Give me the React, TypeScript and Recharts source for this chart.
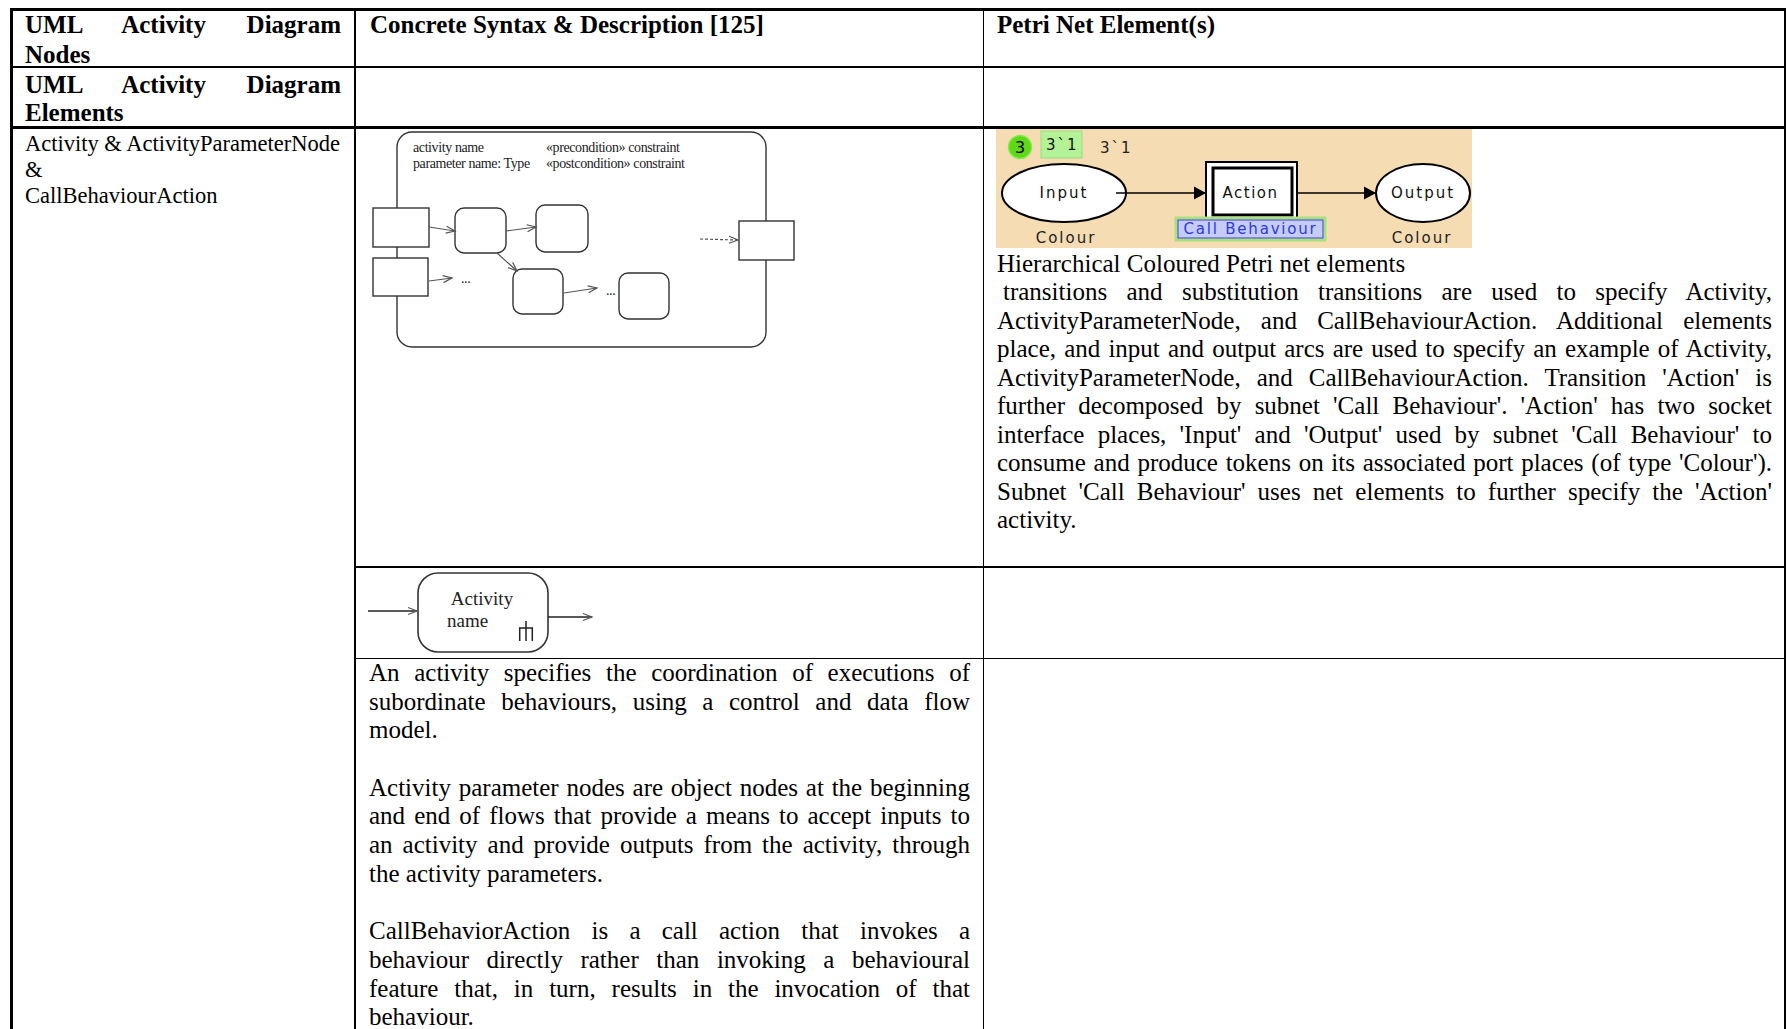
import React from 'react';
import { ScatterChart, Scatter, XAxis, YAxis } from 'recharts';

const SERIF = "'Liberation Serif', 'Times New Roman', serif";
const PIXEL = "'DejaVu Sans', Verdana, sans-serif";

// table text
const headCol1 = ['UML Activity Diagram', 'Nodes'];
const elemCol1 = ['UML Activity Diagram', 'Elements'];
const rowLabel = ['Activity & ActivityParameterNode', '&', 'CallBehaviourAction'];
const headCol2 = 'Concrete Syntax & Description [125]';
const headCol3 = 'Petri Net Element(s)';

const petriCaption = 'Hierarchical Coloured Petri net elements';
const petriText = [
  'transitions and substitution transitions are used to specify Activity,',
  'ActivityParameterNode, and CallBehaviourAction. Additional elements',
  'place, and input and output arcs are used to specify an example of Activity,',
  "ActivityParameterNode, and CallBehaviourAction. Transition 'Action' is",
  "further decomposed by subnet 'Call Behaviour'. 'Action' has two socket",
  "interface places, 'Input' and 'Output'  used by subnet 'Call Behaviour' to",
  "consume and produce tokens on its associated port places (of type 'Colour').",
  "Subnet 'Call Behaviour' uses net elements to further specify the 'Action'",
  'activity.',
];

const descText = [
  'An activity specifies the coordination of executions of',
  'subordinate behaviours, using a control and data flow',
  'model.',
  '',
  'Activity parameter nodes are object nodes at the beginning',
  'and end of flows that provide a means to accept inputs to',
  'an activity and provide outputs from the activity, through',
  'the activity parameters.',
  '',
  'CallBehaviorAction is a call action that invokes a',
  'behaviour directly rather than invoking a behavioural',
  'feature that, in turn, results in the invocation of that',
  'behaviour.',
];
// lines that end a paragraph are not justified
const descLast = [2, 7, 12];

// activity frame notation (coords in px inside the sketch)
const umlNodes = [
  { x: 221.5, y: 114.5, w: 369, h: 215, kind: 'frame' },
  { x: 41, y: 102.5, w: 56, h: 39, kind: 'pin' },
  { x: 40.5, y: 152, w: 55, h: 38, kind: 'pin' },
  { x: 406.5, y: 115.5, w: 55, h: 39, kind: 'pin' },
  { x: 120.5, y: 105.5, w: 51, h: 45, kind: 'act' },
  { x: 202, y: 103.5, w: 52, h: 47, kind: 'act' },
  { x: 178, y: 166.5, w: 50, h: 45, kind: 'act' },
  { x: 284, y: 171, w: 50, h: 46, kind: 'act' },
];
const umlFlows = [
  { x1: 69, y1: 102, x2: 95, y2: 106 },
  { x1: 146, y1: 106, x2: 176, y2: 102 },
  { x1: 137, y1: 128, x2: 157, y2: 146 },
  { x1: 204, y1: 168, x2: 237, y2: 163 },
  { x1: 69, y1: 156, x2: 92, y2: 153 },
  { x1: 340, y1: 114, x2: 378, y2: 115, dashed: true },
];
const umlLabels = [
  { x: 53, y: 27, text: 'activity name' },
  { x: 53, y: 43, text: 'parameter name: Type' },
  { x: 186, y: 27, text: '«precondition» constraint' },
  { x: 186, y: 43, text: '«postcondition» constraint' },
  { x: 101, y: 158, text: '...' },
  { x: 246, y: 170, text: '...' },
];

// activity node notation
const actNodes = [
  { x: 123, y: 52.5, w: 130, h: 79, kind: 'big' },
  { x: 166, y: 71, w: 14, h: 20, kind: 'rake' },
];
const actFlows = [
  { x1: 8, y1: 51, x2: 57, y2: 51 },
  { x1: 188, y1: 57, x2: 232, y2: 57 },
];
const actLabels = [
  { x: 122, y: 45, text: 'Activity', anchor: 'middle' },
  { x: 87, y: 67, text: 'name' },
];

// CPN Tools page
const cpnNodes = [
  { x: 244, y: 63.5, w: 476, h: 119, kind: 'bg' },
  { x: 30, y: 22, w: 23, h: 23, kind: 'token', text: '3' },
  { x: 71.5, y: 19.5, w: 41, h: 27, kind: 'marking', text: '3`1' },
  { x: 74, y: 68, w: 124, h: 58, kind: 'place', text: 'Input' },
  { x: 261.5, y: 65, w: 91, h: 56, kind: 'subst', text: 'Action' },
  { x: 260.5, y: 104, w: 145, h: 18, kind: 'tag', text: 'Call Behaviour' },
  { x: 433, y: 68, w: 94, h: 58, kind: 'place', text: 'Output' },
];
const cpnArcs = [
  { x1: 126, y1: 68, x2: 216, y2: 68 },
  { x1: 307, y1: 68, x2: 386, y2: 68 },
];
const cpnLabels = [
  { x: 110, y: 28, text: '3`1' },
  { x: 76, y: 118, text: 'Colour', anchor: 'middle' },
  { x: 432, y: 118, text: 'Colour', anchor: 'middle' },
];

const flowPoints = (f: any) => [
  { x: f.x1, y: f.y1, head: false },
  { x: f.x2, y: f.y2, head: true, angle: (Math.atan2(f.y2 - f.y1, f.x2 - f.x1) * 180) / Math.PI },
];

function umlShape(p: any) {
  const d = p.payload;
  const x = p.cx - d.w / 2;
  const y = p.cy - d.h / 2;
  if (d.kind === 'rake') {
    return (
      <path
        d={`M${p.cx},${y} V${y + d.h} M${x},${y + 7} H${x + d.w} M${x + 0.7},${y + 7} V${y + d.h} M${x + d.w - 0.7},${y + 7} V${y + d.h}`}
        stroke="#222"
        strokeWidth={1.5}
        fill="none"
      />
    );
  }
  const r = d.kind === 'frame' ? 15 : d.kind === 'act' ? 9 : d.kind === 'big' ? 20 : 0;
  return (
    <rect x={x} y={y} width={d.w} height={d.h} rx={r} fill="#fff" stroke="#333" strokeWidth={d.kind === 'big' ? 1.6 : 1.4} />
  );
}

function openHead(p: any) {
  const d = p.payload;
  if (!d.head) return <g />;
  return (
    <path
      transform={`translate(${p.cx},${p.cy}) rotate(${d.angle})`}
      d="M-9,-3.5 L0,0 L-9,3.5"
      fill="none"
      stroke="#555"
      strokeWidth={1.2}
    />
  );
}

function filledHead(p: any) {
  const d = p.payload;
  if (!d.head) return <g />;
  return <path transform={`translate(${p.cx},${p.cy}) rotate(${d.angle})`} d="M-12,-6.5 L0,0 L-12,6.5 Z" fill="#000" />;
}

function serifLabel(size: number, spacing: number) {
  return (p: any) => (
    <text
      x={p.cx}
      y={p.cy}
      fontFamily={SERIF}
      fontSize={size}
      letterSpacing={spacing}
      fill="#222"
      textAnchor={p.payload.anchor || 'start'}
    >
      {p.payload.text}
    </text>
  );
}

function cpnLabel(p: any) {
  return (
    <text x={p.cx} y={p.cy} fontFamily={PIXEL} fontSize={15} letterSpacing={2} fill="#222" textAnchor={p.payload.anchor || 'start'}>
      {p.payload.text}
    </text>
  );
}

function cpnShape(p: any) {
  const d = p.payload;
  const x = p.cx - d.w / 2;
  const y = p.cy - d.h / 2;
  const txt = (color = '#111') => (
    <text x={p.cx} y={p.cy + 5} fontFamily={PIXEL} fontSize={15} letterSpacing={2} fill={color} textAnchor="middle">
      {d.text}
    </text>
  );
  switch (d.kind) {
    case 'bg':
      return <rect x={x} y={y} width={d.w} height={d.h} fill="#f5dcb2" />;
    case 'token':
      return (
        <g>
          <circle cx={p.cx} cy={p.cy} r={d.w / 2} fill="#5fd816" stroke="#86e853" strokeWidth={1.5} />
          <text x={p.cx} y={p.cy + 6} fontFamily={PIXEL} fontSize={16} fill="#000" textAnchor="middle">{d.text}</text>
        </g>
      );
    case 'marking':
      return (
        <g>
          <rect x={x} y={y} width={d.w} height={d.h} fill="#b4f296" stroke="#9fd98a" strokeWidth={1} />
          <text x={x + 5} y={y + 19} fontFamily={PIXEL} fontSize={15} letterSpacing={2} fill="#111">{d.text}</text>
        </g>
      );
    case 'place':
      return (
        <g>
          <ellipse cx={p.cx} cy={p.cy} rx={d.w / 2} ry={d.h / 2} fill="#fff" stroke="#000" strokeWidth={2} />
          {txt()}
        </g>
      );
    case 'subst':
      return (
        <g>
          <rect x={x} y={y} width={d.w} height={d.h} fill="#fff" stroke="#000" strokeWidth={2} />
          <rect x={x + 7} y={y + 6} width={d.w - 12} height={d.h - 9} fill="#fff" stroke="#000" strokeWidth={3} />
          <text x={p.cx - 1} y={p.cy + 8} fontFamily={PIXEL} fontSize={15} letterSpacing={1.5} fill="#111" textAnchor="middle">{d.text}</text>
        </g>
      );
    case 'tag':
      return (
        <g>
          <rect x={x - 2} y={y - 2} width={d.w + 4} height={d.h + 4} fill="none" stroke="#a8e27c" strokeWidth={3} />
          <rect x={x} y={y} width={d.w} height={d.h} fill="#c6ccf6" stroke="#3140e0" strokeWidth={1} />
          <text x={p.cx} y={p.cy + 5} fontFamily={PIXEL} fontSize={15} letterSpacing={1.8} fill="#2a3ae6" textAnchor="middle">{d.text}</text>
        </g>
      );
    default:
      return <g />;
  }
}

function Sketch({ left, top, width, height, nodes, nodeShape, flows, head, stroke, strokeWidth, labels, labelShape }: any) {
  return (
    <div style={{ position: 'absolute', left, top }}>
      <ScatterChart width={width} height={height} margin={{ top: 0, right: 0, bottom: 0, left: 0 }}>
        <XAxis type="number" dataKey="x" domain={[0, width]} allowDataOverflow hide />
        <YAxis type="number" dataKey="y" domain={[0, height]} allowDataOverflow reversed hide />
        <Scatter data={nodes} shape={nodeShape} isAnimationActive={false} />
        {flows.map((f: any, i: number) => (
          <Scatter
            key={i}
            data={flowPoints(f)}
            line={{ stroke, strokeWidth, strokeDasharray: f.dashed ? '3 2' : undefined }}
            shape={head}
            isAnimationActive={false}
          />
        ))}
        <Scatter data={labels} shape={labelShape} isAnimationActive={false} />
      </ScatterChart>
    </div>
  );
}

function TextLine({ text, x, base, width, size, lh, bold, justify }: any) {
  const top = base - ((lh - 1.107 * size) / 2 + 0.891 * size);
  return (
    <div
      style={{
        position: 'absolute',
        left: x,
        top,
        width,
        fontFamily: SERIF,
        fontSize: size,
        lineHeight: `${lh}px`,
        fontWeight: bold ? 700 : 400,
        textAlign: justify ? 'justify' : 'left',
        textAlignLast: justify ? 'justify' : 'auto',
        color: '#000',
      }}
    >
      {text}
    </div>
  );
}

function Rule({ x, y, w, h }: any) {
  return <div style={{ position: 'absolute', left: x, top: y, width: w, height: h, background: '#000' }} />;
}

export default function App() {
  return (
    <div style={{ position: 'relative', width: 1787, height: 1029, overflow: 'hidden', background: '#fff' }}>
      <style>{'body{margin:0}'}</style>

      {/* grid */}
      <Rule x={10} y={8} w={1776} h={2.5} />
      <Rule x={10} y={66} w={1776} h={1.5} />
      <Rule x={10} y={126} w={1776} h={2.5} />
      <Rule x={354} y={566} w={1432} h={2} />
      <Rule x={354} y={657.5} w={1432} h={1.5} />
      <Rule x={10} y={8} w={2.5} h={1021} />
      <Rule x={354} y={8} w={1.5} h={1021} />
      <Rule x={982.5} y={8} w={1.5} h={1021} />
      <Rule x={1784} y={8} w={2} h={1021} />

      {/* header rows */}
      <TextLine text={headCol1[0]} x={25} base={33} width={316} size={25} lh={29} bold justify />
      <TextLine text={headCol1[1]} x={25} base={62.5} width={316} size={25} lh={29} bold />
      <TextLine text={elemCol1[0]} x={25} base={92.5} width={316} size={25} lh={29} bold justify />
      <TextLine text={elemCol1[1]} x={25} base={121} width={316} size={25} lh={29} bold />
      <TextLine text={headCol2} x={370} base={33} width={600} size={25} lh={29} bold />
      <TextLine text={headCol3} x={997} base={33} width={775} size={25} lh={29} bold />

      {rowLabel.map((t, i) => (
        <TextLine key={t} text={t} x={25} base={151.7 + i * 26} width={320} size={22.5} lh={26} />
      ))}

      {/* petri net column */}
      <TextLine text={petriCaption} x={997} base={272.5} width={775} size={25} lh={28.5} />
      {petriText.map((t, i) => (
        <TextLine
          key={i}
          text={t}
          x={i === 0 ? 1003 : 997}
          base={301 + i * 28.5}
          width={i === 0 ? 769 : 775}
          size={25}
          lh={28.5}
          justify={i < petriText.length - 1}
        />
      ))}

      {/* description column */}
      {descText.map((t, i) =>
        t ? (
          <TextLine
            key={i}
            text={t}
            x={369}
            base={681.5 + i * 28.7}
            width={601}
            size={25}
            lh={28.5}
            justify={!descLast.includes(i)}
          />
        ) : null
      )}

      <Sketch
        left={360}
        top={125}
        width={460}
        height={235}
        nodes={umlNodes}
        nodeShape={umlShape}
        flows={umlFlows}
        head={openHead}
        stroke="#555"
        strokeWidth={1.2}
        labels={umlLabels}
        labelShape={serifLabel(14, -0.4)}
      />
      <Sketch
        left={360}
        top={560}
        width={260}
        height={110}
        nodes={actNodes}
        nodeShape={umlShape}
        flows={actFlows}
        head={openHead}
        stroke="#222"
        strokeWidth={1.4}
        labels={actLabels}
        labelShape={serifLabel(19, 0)}
      />
      <Sketch
        left={990}
        top={125}
        width={490}
        height={130}
        nodes={cpnNodes}
        nodeShape={cpnShape}
        flows={cpnArcs}
        head={filledHead}
        stroke="#000"
        strokeWidth={1.5}
        labels={cpnLabels}
        labelShape={cpnLabel}
      />
    </div>
  );
}
